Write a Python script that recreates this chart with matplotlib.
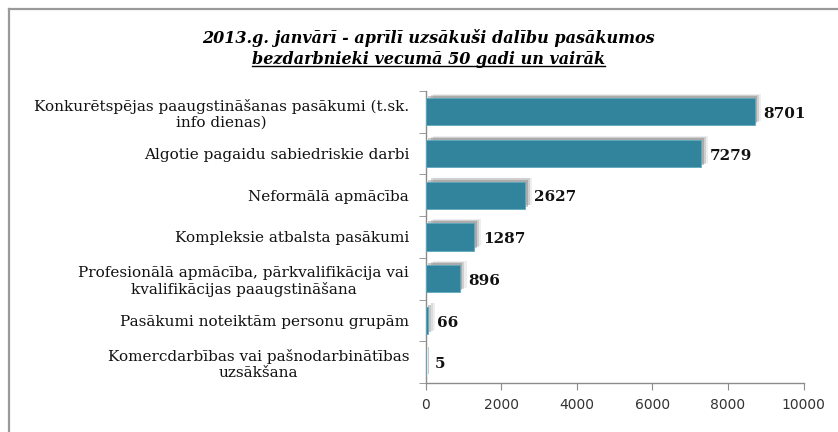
import matplotlib
matplotlib.use("Agg")
import matplotlib.pyplot as plt
import matplotlib.patheffects as pe
from matplotlib.lines import Line2D
import numpy as np

categories = [
    "Konkurētspējas paaugstināšanas pasākumi (t.sk.\ninfo dienas)",
    "Algotie pagaidu sabiedriskie darbi",
    "Neformālā apmācība",
    "Kompleksie atbalsta pasākumi",
    "Profesionālā apmācība, pārkvalifikācija vai\nkvalifikācijas paaugstināšana",
    "Pasākumi noteiktām personu grupām",
    "Komercdarbības vai pašnodarbinātības\nuzsākšana",
]
values = [8701, 7279, 2627, 1287, 896, 66, 5]
xticks = [0, 2000, 4000, 6000, 8000, 10000]
title1 = "2013.g. janvārī - aprīlī uzsākuši dalību pasākumos"
title2 = "bezdarbnieki vecumā 50 gadi un vairāk"

serif = ["DejaVu Serif"]
bar_color = "#31849B"
axis_gray = "#8C8C8C"

fig = plt.figure(figsize=(8.38, 4.32), dpi=100)
fig.patch.set_facecolor("white")

# outer frame: top and left edges only (cropped chart area)
fx = 9 / 838
fy = 1 - 9 / 432
fig.add_artist(Line2D([fx, 1.0], [fy, fy], transform=fig.transFigure, color="#9A9A9A", linewidth=1.6))
fig.add_artist(Line2D([fx, fx], [0.0, fy], transform=fig.transFigure, color="#9A9A9A", linewidth=1.6))

ax = fig.add_axes([0.508, 0.1134, 0.451, 0.676])
y = np.arange(len(categories))
bars = ax.barh(y, values, height=0.65, color=bar_color, edgecolor="#5FA9BD", linewidth=0.6, zorder=3)
shadow_fx = [
    pe.SimplePatchShadow(offset=(5, 3), shadow_rgbFace="#AAAAAA", alpha=0.2),
    pe.SimplePatchShadow(offset=(3.5, 2.5), shadow_rgbFace="#8A8A8A", alpha=0.3),
    pe.SimplePatchShadow(offset=(2, 1.5), shadow_rgbFace="#777777", alpha=0.4),
    pe.Normal(),
]
for b in bars:
    b.set_path_effects(shadow_fx)

ax.set_ylim(len(categories) - 0.5, -0.5)
ax.set_xlim(0, 10000)
ax.set_xticks(xticks)
ax.set_xticklabels([str(t) for t in xticks], fontsize=10, color="#333333", family="DejaVu Sans")
ax.set_yticks(y)
ax.set_yticklabels(categories, fontsize=11, family=serif, multialignment="center", color="#111111")
ax.tick_params(axis="y", length=0, pad=12)
ax.set_yticks(np.arange(len(categories) + 1) - 0.5, minor=True)
ax.tick_params(axis="y", which="minor", length=5, color=axis_gray, direction="out")
ax.tick_params(axis="x", length=5, color=axis_gray, direction="out", pad=6)

for s in ["top", "right"]:
    ax.spines[s].set_visible(False)
for s in ["left", "bottom"]:
    ax.spines[s].set_color(axis_gray)
    ax.spines[s].set_linewidth(1.0)

for yi, v in zip(y, values):
    ax.text(v + 230, yi + 0.05, str(v), va="center", ha="left", fontsize=11,
            fontweight="bold", family=serif, color="#111111")

t1 = fig.text(0.511, 0.912, title1, ha="center", va="center", fontsize=11.5,
              fontweight="bold", style="italic", family=serif)
t2 = fig.text(0.511, 0.862, title2, ha="center", va="center", fontsize=11.5,
              fontweight="bold", style="italic", family=serif)

fig.canvas.draw()
bb = t2.get_window_extent(renderer=fig.canvas.get_renderer()).transformed(fig.transFigure.inverted())
uy = bb.y0 + 0.004
fig.add_artist(Line2D([bb.x0, bb.x1], [uy, uy], transform=fig.transFigure, color="black", linewidth=1.0))

fig.savefig("out.png", dpi=100, facecolor="white")
